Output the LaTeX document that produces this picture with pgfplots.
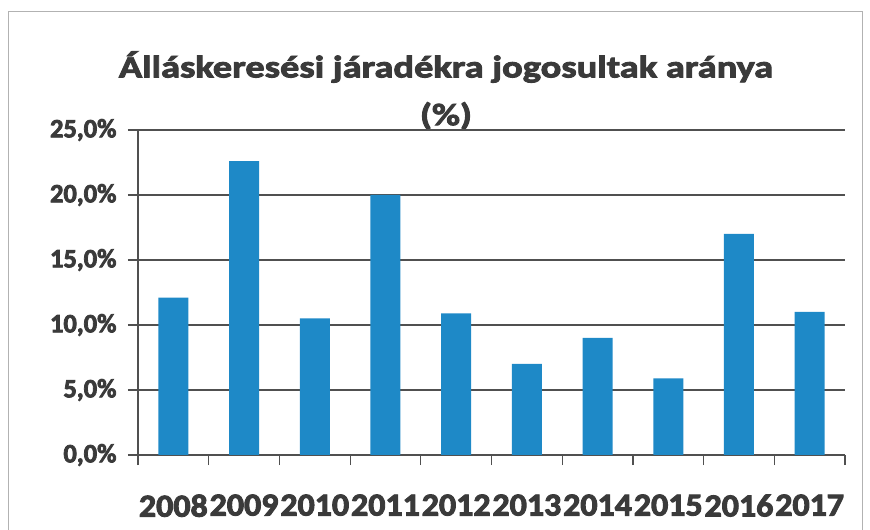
\documentclass[border=0pt]{standalone}
\usepackage{fontspec}
\setmainfont{Carlito}
\newfontfamily\titlefont{Carlito}[BoldFeatures={FakeBold=3,FakeStretch=1.24}]
\newfontfamily\xfont{Carlito}[BoldFeatures={FakeBold=3,FakeStretch=1.06}]
\newfontfamily\yfont{Carlito}[BoldFeatures={FakeBold=3}]
\usepackage{pgfplots}
\pgfplotsset{compat=1.18}
\definecolor{barblue}{RGB}{30,137,199}
\definecolor{txt}{RGB}{58,58,58}
\definecolor{grd}{RGB}{80,80,80}
\begin{document}
\begin{tikzpicture}[x=1pt,y=1pt]
\path[use as bounding box] (0,0) rectangle (870,530);
\draw[gray!60, line width=1pt] (8,0) -- (8,518) -- (862,518) -- (862,0);
\node[font=\titlefont\bfseries\fontsize{31}{31}\selectfont, text=txt] at (446,463) {Álláskeresési járadékra jogosultak aránya};
\node[font=\titlefont\bfseries\fontsize{31}{31}\selectfont, text=txt] at (446,414) {(\%)};
\begin{axis}[
  at={(138pt,75pt)}, anchor=south west,
  scale only axis, width=707pt, height=325pt,
  xmin=-0.5, xmax=9.5, ymin=0, ymax=25,
  axis x line*=bottom, axis y line*=left,
  axis line style={grd, line width=1.2pt, -},
  ytick={0,5,10,15,20,25},
  yticklabels={{0,0\%},{5,0\%},{10,0\%},{15,0\%},{20,0\%},{25,0\%}},
  ymajorgrids, grid style={grd, line width=1.5pt},
  xtick={0,...,9},
  xticklabels={2008,2009,2010,2011,2012,2013,2014,2015,2016,2017},
  major x tick style={draw=none},
  minor xtick={-0.5,0.5,...,9.5},
  minor x tick style={grd, line width=1.2pt},
  major y tick style={grd, line width=1.5pt},
  tick align=outside,
  major tick length=10pt, minor tick length=10pt,
  xticklabel style={font=\xfont\bfseries\fontsize{32}{32}\selectfont, text=txt, yshift=-26pt},
  yticklabel style={font=\yfont\bfseries\fontsize{26.5}{26.5}\selectfont, text=txt, xshift=-8pt},
]
\addplot[ybar, bar width=30pt, fill=barblue, draw=none] coordinates {
  (0,12.1) (1,22.6) (2,10.5) (3,20.0) (4,10.9)
  (5,7.0) (6,9.0) (7,5.9) (8,17.0) (9,11.0)
};
\end{axis}
\end{tikzpicture}
\end{document}
